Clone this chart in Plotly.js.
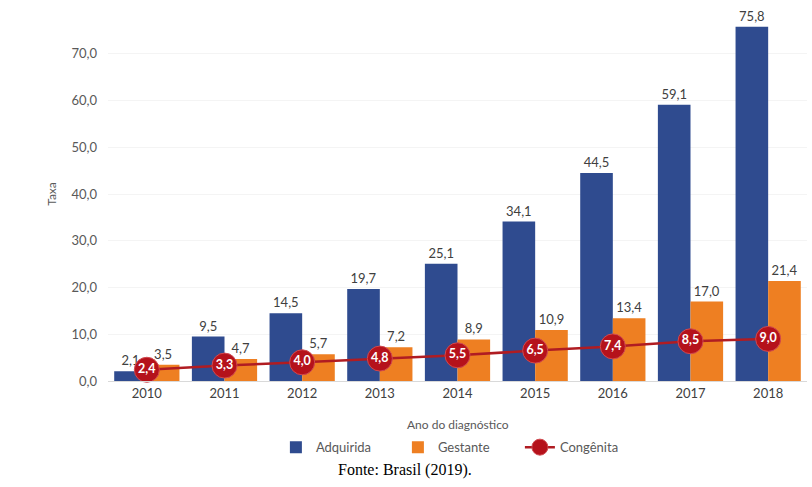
<!DOCTYPE html>
<html>
<head>
<meta charset="utf-8">
<script src="https://cdn.plot.ly/plotly-3.0.1.min.js"></script>
<style>
  html, body { margin: 0; padding: 0; background: #fff; }
  #grafico { width: 812px; height: 487px; }
</style>
</head>
<body>
<div id="grafico"></div>
<script>
// Taxas por ano do diagnóstico
const anos = ['2010', '2011', '2012', '2013', '2014', '2015', '2016', '2017', '2018'];
const adquirida = [2.1, 9.5, 14.5, 19.7, 25.1, 34.1, 44.5, 59.1, 75.8];
const gestante = [3.5, 4.7, 5.7, 7.2, 8.9, 10.9, 13.4, 17.0, 21.4];
const congenita = [2.4, 3.3, 4.0, 4.8, 5.5, 6.5, 7.4, 8.5, 9.0];
const ticksY = [0, 10, 20, 30, 40, 50, 60, 70];

const fonteBase = 'Lato, "Open Sans", sans-serif';

const data = [
  {
    type: 'bar',
    name: 'Adquirida',
    x: anos,
    y: adquirida,
    marker: { color: '#2F4B8F' },
    texttemplate: '%{y:.1f}',
    textposition: 'outside',
    cliponaxis: false,
    textfont: { family: fonteBase, size: 13, color: '#404040' },
    hoverinfo: 'skip'
  },
  {
    type: 'bar',
    name: 'Gestante',
    x: anos,
    y: gestante,
    marker: { color: '#EE7F22' },
    texttemplate: '%{y:.1f}',
    textposition: 'outside',
    cliponaxis: false,
    textfont: { family: fonteBase, size: 13, color: '#404040' },
    hoverinfo: 'skip'
  },
  {
    type: 'scatter',
    name: 'Congênita',
    x: anos,
    y: congenita,
    mode: 'lines+markers+text',
    line: { color: '#B01C22', width: 2.5 },
    marker: { color: '#B5121B', size: 25, line: { color: '#D04A50', width: 1 } },
    texttemplate: '%{y:.1f}',
    textposition: 'middle center',
    textfont: { family: fonteBase, size: 12.5, color: '#ffffff', weight: 'bold' },
    cliponaxis: false,
    hoverinfo: 'skip'
  }
];

const layout = {
  width: 812,
  height: 487,
  paper_bgcolor: '#fff',
  plot_bgcolor: '#fff',
  separators: ',.',
  margin: { l: 108, r: 5, t: 7, b: 106, autoexpand: false },
  barmode: 'group',
  bargap: 0.16,
  bargroupgap: 0,
  showlegend: true,
  legend: {
    orientation: 'h',
    x: 0.502,
    xanchor: 'center',
    y: -0.177,
    yanchor: 'middle',
    font: { family: fonteBase, size: 13, color: '#595959' },
    itemwidth: 30,
    entrywidth: 77,
    tracegroupgap: 0
  },
  xaxis: {
    type: 'category',
    range: [-0.5, anos.length - 0.5],
    automargin: false,
    showgrid: false,
    showline: true,
    linecolor: '#D9D9D9',
    linewidth: 1,
    ticks: '',
    tickfont: { family: fonteBase, size: 13, color: '#404040' },
    fixedrange: true
  },
  yaxis: {
    range: [0, 80],
    automargin: false,
    tickvals: ticksY,
    tickformat: '.1f',
    showgrid: true,
    gridcolor: '#F4F4F4',
    zeroline: false,
    showline: false,
    ticks: '',
    ticklabelstandoff: 10,
    tickfont: { family: fonteBase, size: 13, color: '#595959' },
    title: { text: 'Taxa', font: { family: fonteBase, size: 12, color: '#595959' }, standoff: 12 },
    fixedrange: true
  },
  annotations: [
    {
      text: 'Ano do diagnóstico',
      xref: 'paper', yref: 'paper',
      x: 0.5, y: -0.117,
      xanchor: 'center', yanchor: 'middle',
      showarrow: false,
      font: { family: fonteBase, size: 12, color: '#595959' }
    },
    {
      text: 'Fonte: Brasil (2019).',
      xref: 'paper', yref: 'paper',
      x: 0.425, y: -0.238,
      xanchor: 'center', yanchor: 'middle',
      showarrow: false,
      font: { family: '"Liberation Serif", "Times New Roman", serif', size: 16, color: '#000000' }
    }
  ]
};

Plotly.newPlot('grafico', data, layout, { displayModeBar: false, staticPlot: true });
</script>
</body>
</html>
